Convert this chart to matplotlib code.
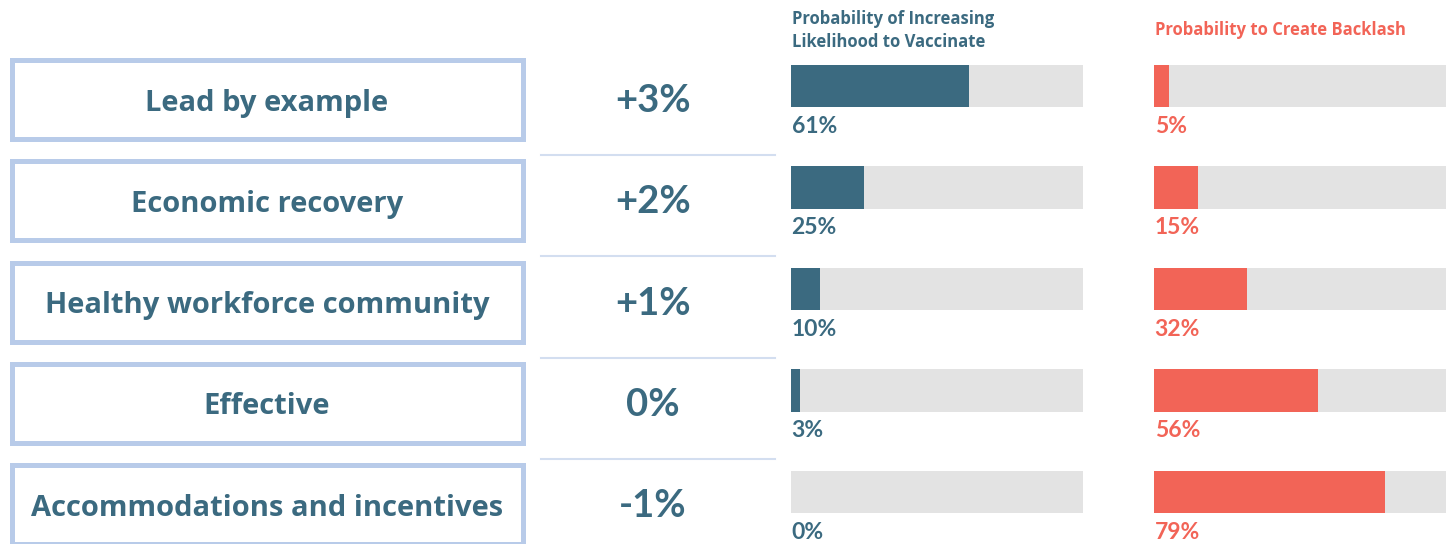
import matplotlib
matplotlib.use('Agg')
import matplotlib.pyplot as plt
from matplotlib.patches import Rectangle

# data
strategies = ['Lead by example', 'Economic recovery', 'Healthy workforce community',
              'Effective', 'Accommodations and incentives']
lift = ['+3%', '+2%', '+1%', '0%', '-1%']
p_increase = [61, 25, 10, 3, 0]
p_backlash = [5, 15, 32, 56, 79]
title_increase = 'Probability of Increasing\nLikelihood to Vaccinate'
title_backlash = 'Probability to Create Backlash'

TEAL = '#3b6a80'
CORAL = '#f26457'
GREY = '#e3e3e3'
BOX = '#b8cbe9'
SEP = '#d3def0'

plt.rcParams['font.family'] = ['Lato', 'DejaVu Sans']
WIDE = ['Open Sans', 'DejaVu Sans']

W, H = 1452, 544
fig = plt.figure(figsize=(W / 100, H / 100), dpi=100)

# layout axis in pixel units
ax = fig.add_axes([0, 0, 1, 1])
ax.set_xlim(0, W)
ax.set_ylim(H, 0)
ax.axis('off')

pitch = 101.3
box_top = 60
box_h = 79
for i, (name, l) in enumerate(zip(strategies, lift)):
    y0 = box_top + i * pitch
    ax.add_patch(Rectangle((11.5, y0), 511, box_h, fill=False, ec=BOX, lw=3.6))
    ax.text(267, y0 + box_h / 2 + 3.5, name, ha='center', va='center',
            fontsize=21, fontweight='bold', color=TEAL, family=WIDE)
    ax.text(653, y0 + box_h / 2 + 1.5, l, ha='center', va='center',
            fontsize=27.5, fontweight='bold', color=TEAL)
    if i < len(strategies) - 1:
        ys = y0 + box_h + 16
        ax.plot([541, 775], [ys, ys], color=SEP, lw=1.5)

ax.text(792, 30.5, title_increase, ha='left', va='center', fontsize=12,
        fontweight='bold', color=TEAL, linespacing=1.42, family=WIDE)
ax.text(1155, 30, title_backlash, ha='left', va='center', fontsize=12,
        fontweight='bold', color=CORAL, family=WIDE)

# bar axes
bar_h = 42 / pitch
for left_px, vals, col in [(791, p_increase, TEAL), (1154, p_backlash, CORAL)]:
    bax = fig.add_axes([left_px / W, 1 - 513 / H, 292 / W, 448 / H])
    bax.set_xlim(0, 100)
    bax.set_ylim(4 + bar_h / 2, -bar_h / 2)
    bax.axis('off')
    ys = list(range(len(vals)))
    bax.barh(ys, [100] * len(vals), height=bar_h, color=GREY)
    bax.barh(ys, vals, height=bar_h, color=col)
    for y, v in zip(ys, vals):
        bax.text(0.2, y + bar_h / 2 + 0.19, f'{v}%', ha='left', va='center',
                 fontsize=16.5, fontweight='bold', color=col, clip_on=False)

fig.savefig('out.png', dpi=100)
